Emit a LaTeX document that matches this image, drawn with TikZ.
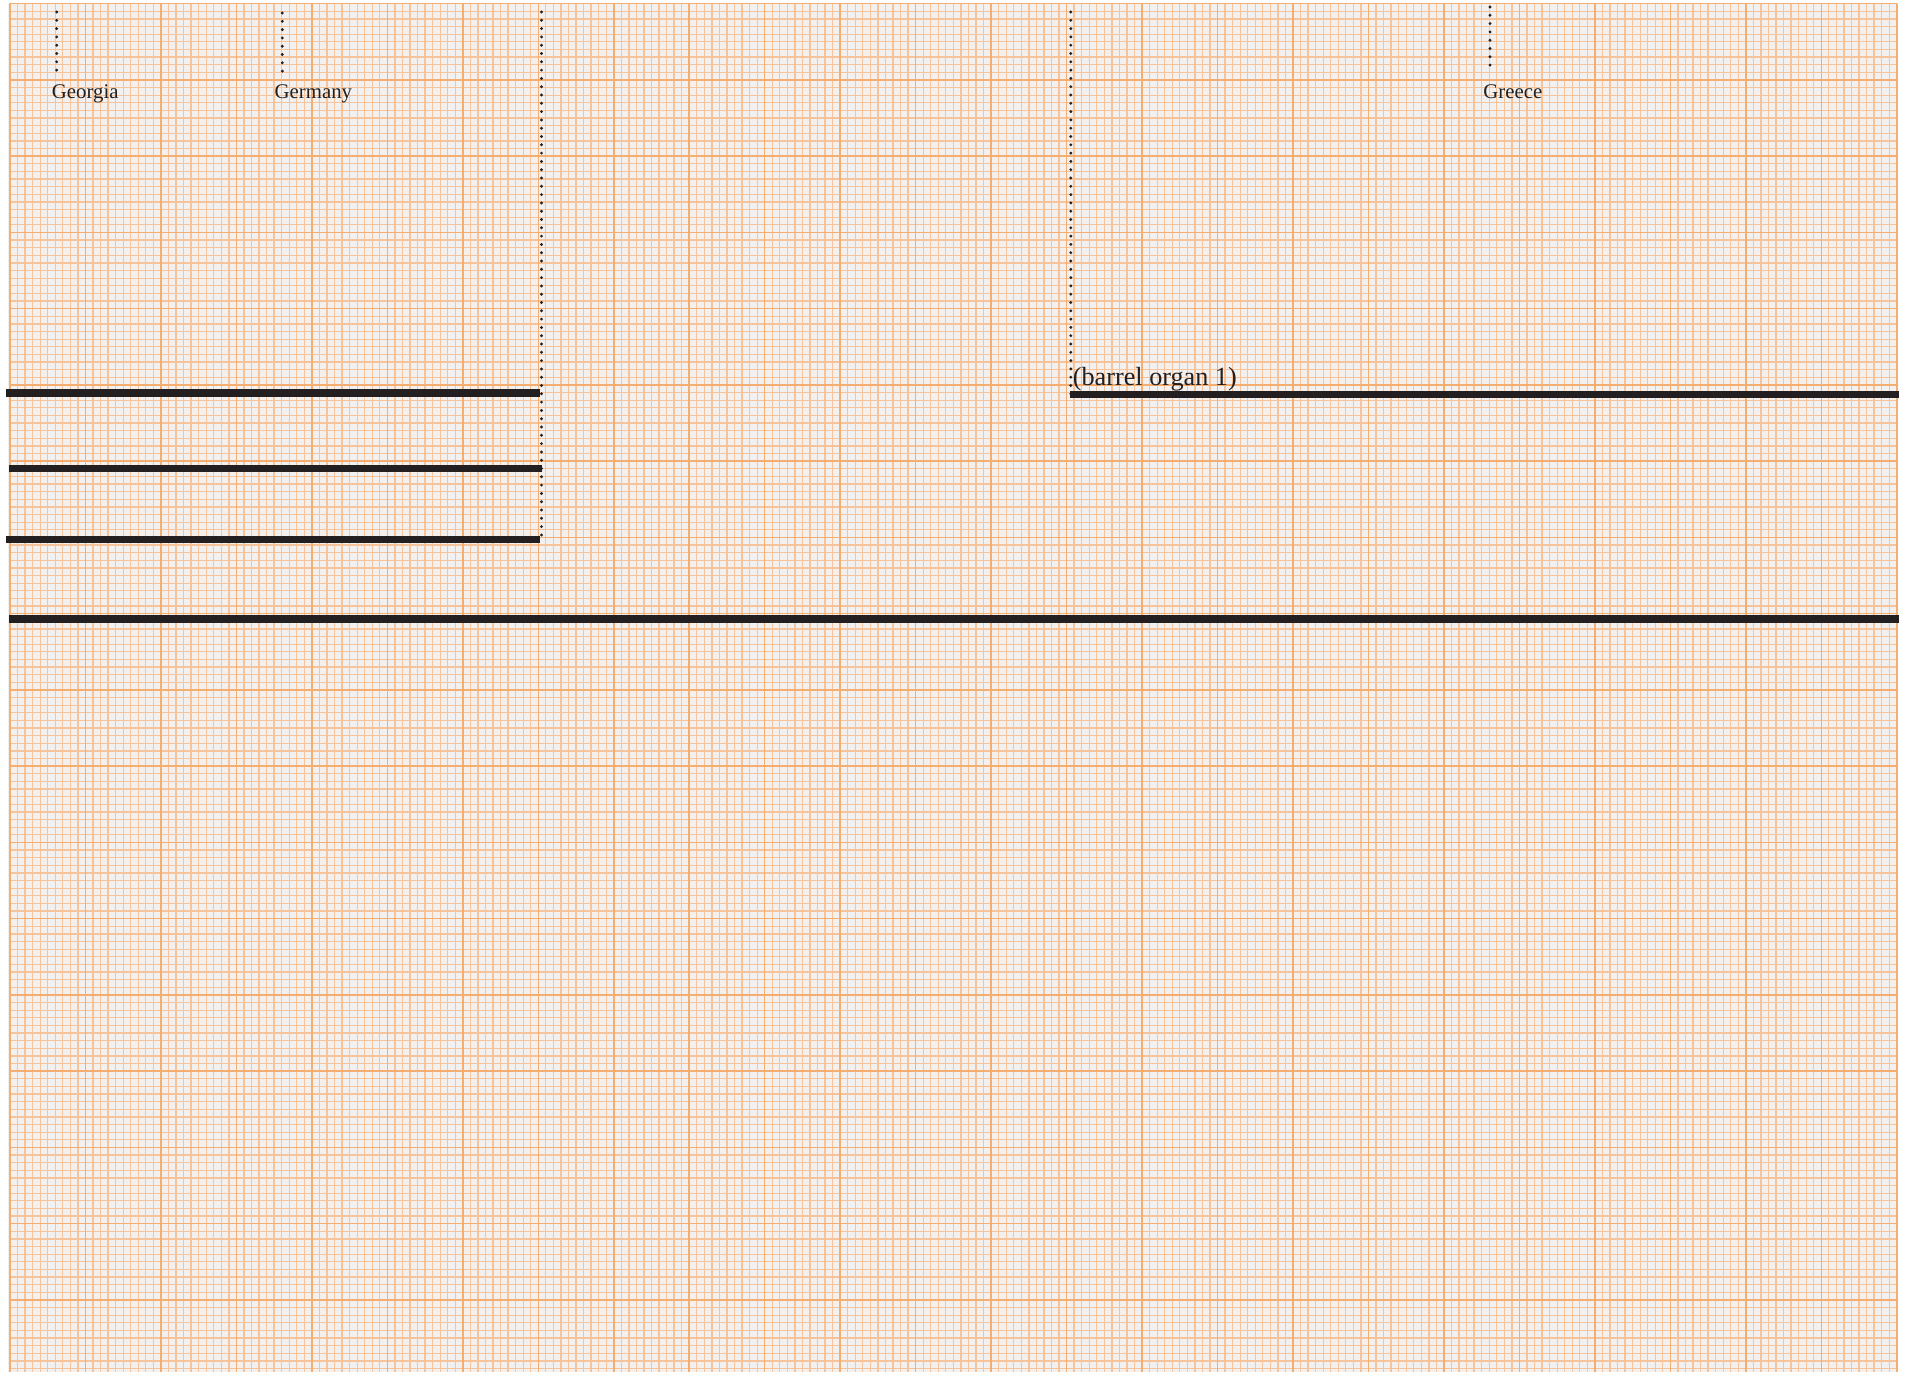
\documentclass[tikz,border=0pt]{standalone}
\usepackage{fontspec}
\setmainfont{Liberation Serif}
\definecolor{paper}{HTML}{F3F1EF}
\definecolor{minorc}{HTML}{F7C39A}
\definecolor{majorc}{HTML}{F5AE70}
\definecolor{ink}{HTML}{231F20}
\tikzset{
  minorline/.style={minorc, line width=0.65pt},
  majorline/.style={majorc, line width=0.75pt},
  dotline/.style={ink, line width=1.6pt, line cap=round, dash pattern=on 0pt off 4.15pt},
  barline/.style={ink, line width=3.8pt},
  country/.style={inner sep=0pt, anchor=base west, text=ink, font=\fontsize{10.4}{12}\selectfont},
  biglabel/.style={inner sep=0pt, anchor=base west, text=ink, font=\fontsize{13.1}{15}\selectfont}
}
\begin{document}
\begin{tikzpicture}[x=0.5pt,y=-0.5pt]
\useasboundingbox (0,0) rectangle (1917,1372);
\fill[white] (0,0) rectangle (1917,1372);
\fill[paper] (8,4) rectangle (1898,1372);
% minor grid
\foreach \k in {0,...,250} {
  \draw[minorline] ({10+\k*7.547},4) -- ({10+\k*7.547},1372);
}
\foreach \k in {0,...,179} {
  \draw[minorline] (9,{3.7+\k*7.625}) -- (1897,{3.7+\k*7.625});
}
% major grid
\foreach \k in {0,...,25} {
  \draw[majorline] ({10+\k*75.47},4) -- ({10+\k*75.47},1372);
}
\foreach \k in {0,...,17} {
  \draw[majorline] (9,{3.7+\k*76.25}) -- (1897,{3.7+\k*76.25});
}

% labels
\node[country] (georgia) at (51.5,98) {Georgia};
\node[country] (germany) at (274.3,98) {Germany};
\node[country] (greece) at (1483,98) {Greece};
\node[biglabel] (barrel) at (1072.5,385) {(barrel organ 1)};

% dotted leaders
\coordinate (geoA) at (56.7,12);
\coordinate (geoB) at (56.7,76);
\coordinate (gerA) at (282.3,13);
\coordinate (gerB) at (282.3,77);
\coordinate (greA) at (1490,7);
\coordinate (greB) at (1490,71);
\coordinate (midA) at (541.5,12);
\coordinate (midB) at (541.5,543);
\coordinate (orgA) at (1070.8,12);
\coordinate (orgB) at (1070.8,395);
\draw[dotline] (geoA) -- (geoB);
\draw[dotline] (gerA) -- (gerB);
\draw[dotline] (greA) -- (greB);
\draw[dotline] (midA) -- (midB);
\draw[dotline] (orgA) -- (orgB);

% thick bars
\coordinate (b1L) at (6,393);   \coordinate (b1R) at (540,393);
\coordinate (b2L) at (9,468.3); \coordinate (b2R) at (542.3,468.3);
\coordinate (b3L) at (6,539.3); \coordinate (b3R) at (540,539.3);
\coordinate (b4L) at (9,619);   \coordinate (b4R) at (1899,619);
\coordinate (b5L) at (1070,394.3); \coordinate (b5R) at (1899,394.3);
\draw[barline] (b1L) -- (b1R);
\draw[barline] (b2L) -- (b2R);
\draw[barline] (b3L) -- (b3R);
\draw[barline] (b4L) -- (b4R);
\draw[barline] (b5L) -- (b5R);
\end{tikzpicture}
\end{document}
